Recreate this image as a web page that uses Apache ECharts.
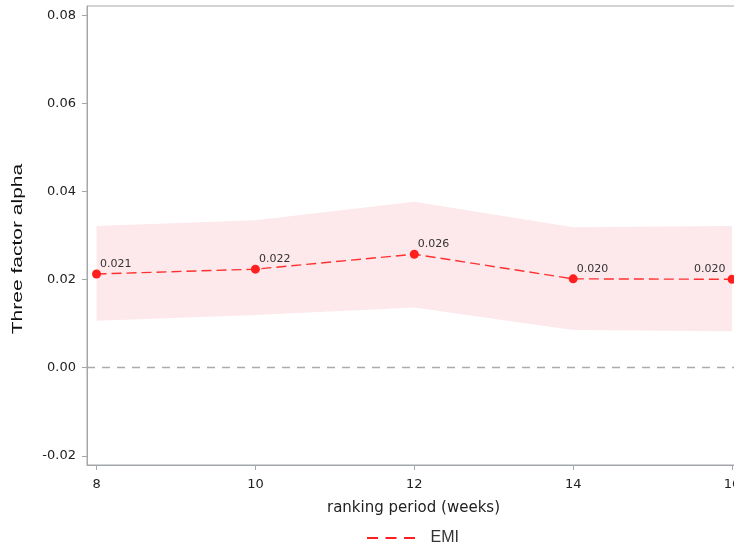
<!DOCTYPE html>
<html>
<head>
<meta charset="utf-8">
<script src="https://cdn.jsdelivr.net/npm/echarts@6/dist/echarts.min.js"></script>
<style>
  html, body {margin:0; padding:0; background:#fff;}
  #main {width:734px; height:551px;}
</style>
</head>
<body>
<div id="main"></div>
<script>
// ranking periods (weeks)
var periods = [8, 10, 12, 14, 16];
// EMI three factor alpha
var alpha = [0.0213, 0.0224, 0.0258, 0.0202, 0.0201];
// confidence band
var upper = [0.0322, 0.0335, 0.0377, 0.0319, 0.0322];
var lower = [0.0107, 0.0120, 0.0137, 0.0086, 0.0083];
var xTicks = [8, 10, 12, 14, 16];
var yTicks = [-0.02, 0, 0.02, 0.04, 0.06, 0.08];

var chart = echarts.init(document.getElementById("main"));

var bandData = periods.map(function(p, i){ return [p, lower[i], upper[i]]; });
var emiData = periods.map(function(p, i){
    var item = {value: [p, alpha[i]]};
    if(i == periods.length - 1){
        item.label = {position: [-2, -11], align: "right"};
    }
    return item;
});

// band polygon drawn once, upper edge then lower edge backwards
function renderBand(params, api){
    if(params.dataIndex != 0) return;
    var pts = [];
    for(var i = 0; i < periods.length; i++){
        pts.push(api.coord([periods[i], upper[i]]));
    }
    for(var j = periods.length - 1; j >= 0; j--){
        pts.push(api.coord([periods[j], lower[j]]));
    }
    return {
        type: "polygon",
        shape: {points: pts},
        style: {fill: "#fde8ec", stroke: null}
    };
}

var axisCol = "#a3a7ab";
var txtCol = "#222";
var font = "DejaVu Sans";

var option = {
    animation: false,
    grid: {
        left: 87, top: 6, width: 653, height: 459,
        outerBoundsMode: "none",
        show: true, borderColor: axisCol, borderWidth: 1
    },
    xAxis: {
        type: "value",
        min: 7.88, max: 16.1,
        name: "ranking period (weeks)",
        nameLocation: "middle",
        nameGap: 36,
        nameTextStyle: {color: txtCol, fontSize: 15, fontFamily: font},
        axisLine: {show: true, onZero: false, lineStyle: {color: axisCol}},
        axisTick: {show: true, length: 5, customValues: xTicks, lineStyle: {color: axisCol}},
        axisLabel: {customValues: xTicks, color: txtCol, fontSize: 13, fontFamily: font, margin: 13},
        splitLine: {show: false}
    },
    yAxis: {
        type: "value",
        min: -0.0221, max: 0.0822,
        axisLine: {show: true, onZero: false, lineStyle: {color: axisCol}},
        axisTick: {show: true, length: 5, customValues: yTicks, lineStyle: {color: axisCol}},
        axisLabel: {
            customValues: yTicks, color: txtCol, fontSize: 13, fontFamily: font, margin: 11,
            formatter: function(v){ return v.toFixed(2); }
        },
        splitLine: {show: false}
    },
    graphic: [{
        type: "text",
        x: 18, y: 249,
        rotation: Math.PI / 2,
        scaleX: 1.5,
        style: {
            text: "Three factor alpha",
            font: "14px 'Liberation Sans'",
            fill: "#111",
            textAlign: "center",
            textVerticalAlign: "middle"
        }
    }],
    legend: {
        data: [{
            name: "EMI",
            icon: "path://M0,0h11v2h-11z M18.5,0h11v2h-11z M37,0h11v2h-11z"
        }],
        left: 367, top: 530,
        padding: 0,
        itemWidth: 49, itemHeight: 2,
        textStyle: {color: "#333", fontSize: 16, fontFamily: "Liberation Sans", padding: [4, 0, 0, 10]}
    },
    series: [
        {
            name: "band", type: "custom", data: bandData,
            renderItem: renderBand, silent: true, clip: true, z: 1
        },
        {
            name: "EMI", type: "line", data: emiData,
            color: "#ff1f1f",
            symbol: "circle", symbolSize: 9,
            lineStyle: {type: [10, 5], width: 1.4, color: "#ff3030"},
            label: {
                show: true, position: [8, -11], align: "left",
                color: "#333", fontSize: 11, fontFamily: font,
                formatter: function(p){ return p.value[1].toFixed(3); }
            },
            markLine: {
                silent: true, symbol: "none", label: {show: false},
                lineStyle: {type: [8, 7], color: "#ababab", width: 1.3},
                data: [{yAxis: 0}]
            },
            z: 5
        }
    ]
};
chart.setOption(option);
</script>
</body>
</html>
